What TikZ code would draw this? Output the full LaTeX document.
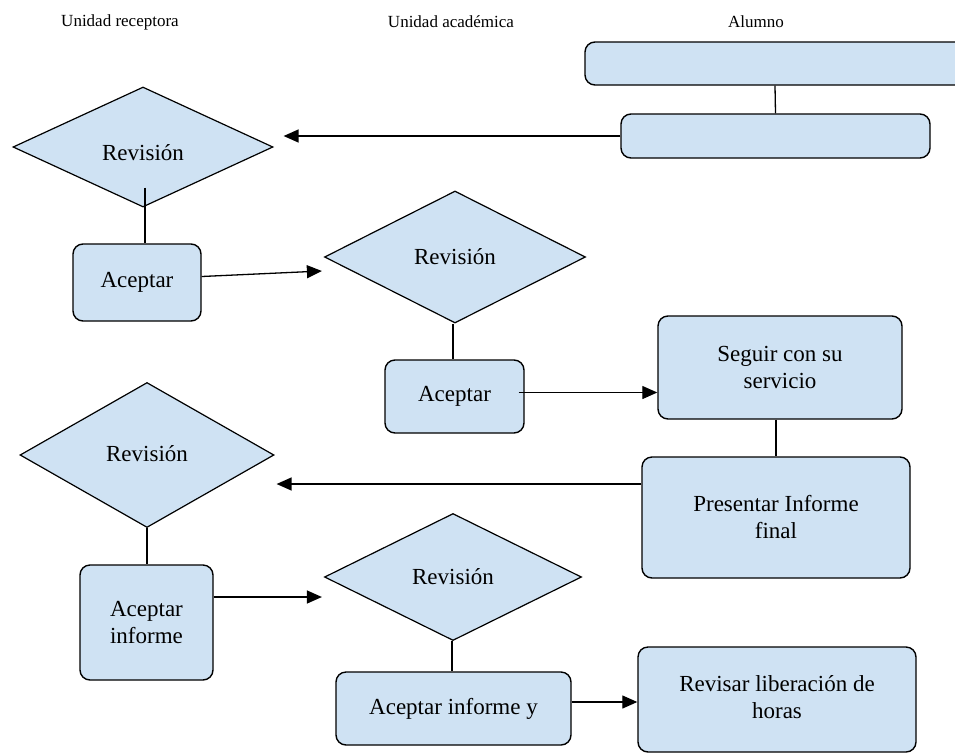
\documentclass[tikz,border=0pt]{standalone}
\usepackage{fontspec}
\setmainfont{Liberation Serif}
\usetikzlibrary{shapes.geometric,arrows.meta}
\definecolor{boxfill}{HTML}{CFE2F3}
\tikzset{
  hdr/.style={font=\fontsize{17}{20}\selectfont, inner sep=0pt},
  rbox/.style={draw, line width=1.4pt, fill=boxfill, rounded corners=10pt, inner sep=0pt, align=center, font=\fontsize{23}{27}\selectfont},
  dmd/.style={draw, line width=1.2pt, fill=boxfill, diamond, inner sep=0pt, font=\fontsize{23}{27}\selectfont},
  conn/.style={line width=1.3pt},
  arr/.style={line width=1.3pt, -{Triangle[length=15pt,width=13pt]}}
}
\begin{document}
\begin{tikzpicture}[x=1pt,y=-1pt]
\clip (0,0) rectangle (955,753);
\fill[white] (0,0) rectangle (955,753);
% headers
\node[hdr] (h1) at (120,22) {Unidad receptora};
\node[hdr] (h2) at (451,22) {Unidad académica};
\node[hdr] (h3) at (756,22) {Alumno};
% Alumno boxes
\node[rbox, minimum width=380pt, minimum height=43pt] (btop) at (775,63.5) {};
\node[rbox, minimum width=309pt, minimum height=44pt] (b2) at (775.5,136) {};
% diamonds
\node[dmd, minimum width=260pt, minimum height=120pt, text height=26pt, text depth=0pt] (d1) at (143,147) {Revisión};
\node[dmd, minimum width=261pt, minimum height=132pt] (d2) at (455,257) {Revisión};
\node[dmd, minimum width=254pt, minimum height=145pt, text height=16pt, text depth=4pt] (d3) at (147,455) {Revisión};
\node[dmd, minimum width=257pt, minimum height=127pt] (d4) at (453,577) {Revisión};
% boxes
\node[rbox, minimum width=128pt, minimum height=77pt] (a1) at (137,282.5) {Aceptar};
\node[rbox, minimum width=139pt, minimum height=73pt] (a2) at (454.5,396.5) {Aceptar};
\node[rbox, minimum width=244pt, minimum height=103pt] (s) at (780,367.5) {Seguir con su\\servicio};
\node[rbox, minimum width=268pt, minimum height=121pt] (p) at (776,517.5) {Presentar Informe\\final};
\node[rbox, minimum width=133pt, minimum height=115pt] (ai) at (146.5,622.5) {Aceptar\\informe};
\node[rbox, minimum width=235pt, minimum height=73pt] (ay) at (453.5,708.5) {Aceptar informe y};
\node[rbox, minimum width=278pt, minimum height=105pt] (r) at (777,699.5) {\raisebox{6pt}{\begin{tabular}{@{}c@{}}Revisar liberación de\\horas\end{tabular}}};
% connectors
\draw[conn] (btop.south) -- (b2.north);
\draw[arr, shorten >=10pt] (b2.west) -- (b2.west -| d1.east);
\draw[conn] ([xshift=2pt,yshift=20pt]d1.south) -- ([xshift=2pt]d1.south |- a1.north);
\draw[arr] ([yshift=6pt]a1.east) -- ([xshift=-2pt,yshift=-14pt]d2.west);
\draw[conn] ([xshift=-2pt]d2.south) -- ([xshift=-2pt]d2.south |- a2.north);
\draw[arr] ([xshift=-6pt,yshift=4pt]a2.east) -- ([yshift=-25pt]s.west);
\draw[conn] (p.north |- s.south) -- (p.north);
\draw[arr, shorten >=2pt] ([yshift=33.5pt]p.west) -- ([yshift=33.5pt]p.west -| d3.east);
\draw[conn] (d3.south) -- (d3.south |- ai.north);
\draw[arr, shorten >=2pt] ([yshift=25.5pt]ai.east) -- ([yshift=25.5pt]ai.east -| d4.west);
\draw[conn] ([xshift=-1pt]d4.south) -- ([xshift=-1pt]d4.south |- ay.north);
\draw[arr] ([yshift=6.5pt]ay.east) -- ([yshift=6.5pt]ay.east -| r.west);
\end{tikzpicture}
\end{document}
